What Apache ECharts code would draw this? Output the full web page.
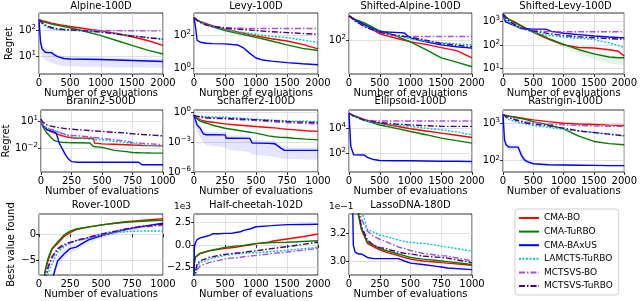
<!DOCTYPE html>
<html><head><meta charset="utf-8">
<script src="https://cdn.jsdelivr.net/npm/echarts@6/dist/echarts.min.js"></script>
<style>html,body{margin:0;padding:0;background:#fff}#c{width:640px;height:301px}</style>
</head><body><div id="c"></div><script>
const METHODS = ['CMA-BO','CMA-TuRBO','CMA-BAxUS','LAMCTS-TuRBO','MCTSVS-BO','MCTSVS-TuRBO'];
const TITLES = ['Alpine-100D','Levy-100D','Shifted-Alpine-100D','Shifted-Levy-100D','Branin2-500D','Schaffer2-100D','Ellipsoid-100D','Rastrigin-100D','Rover-100D','Half-cheetah-102D','LassoDNA-180D'];

// ---------- Alpine-100D ----------
const alpineX = [0,25,50,100,150,200,250,300,400,500,750,1000,1250,1500,1750,2000];
const alpineBO = [260,245,235,220,205,190,180,170,155,140,115,95,75,56,40,26];
const alpineTuRBO = [260,240,225,205,190,175,165,155,140,125,90,62,40,26,17,12];
const alpineBAxUS = [260,35,19,14,13.5,13.5,11,9.5,8,7.7,7.5,7.3,7,6.7,6.4,6.1];
const alpineLAMCTS = [260,220,190,150,125,115,108,104,100,98,95,88,75,62,52,45];
const alpineMCTSBO = [260,220,190,160,140,125,118,112,106,103,100,98,97,96,95,95];
const alpineMCTSTuRBO = [260,220,195,160,140,128,120,115,108,104,95,85,72,60,52,45];
const alpineBandLo = [260,20,10,7,6,5.5,5,4.5,4,4,3.8,3.8,3.6,3.6,3.5,3.5];
const alpineBandHi = [260,50,28,20,18,17,14,12,10,9.5,9,8.8,8.5,8.2,8,7.8];

// ---------- Levy-100D ----------
const levyX = [0,25,50,100,200,300,500,700,800,900,1000,1100,1250,1500,1750,2000];
const levyBO = [1200,1000,850,700,500,380,230,160,135,110,92,78,62,45,28,15];
const levyTuRBO = [1200,1000,850,650,450,330,190,130,110,90,75,62,45,26,16,12];
const levyBAxUS = [1200,300,50,38,33,31,30,26,17,8,4.2,3.2,2.7,2.2,1.9,1.65];
const levyLAMCTS = [1200,1000,850,650,450,350,230,170,150,130,115,100,88,72,52,37];
const levyMCTSBO = [1200,1000,800,600,420,340,290,270,265,262,260,260,260,260,260,260];
const levyMCTSTuRBO = [1200,1000,800,600,420,340,270,235,220,210,195,180,165,145,128,115];

// ---------- Shifted-Alpine-100D ----------
const salpX = [0,100,250,500,750,900,1000,1250,1500,1750,2000];
const salpBO = [345,280,222,138,112,100,92,81,69,59,41];
const salpTuRBO = [345,290,242,162,127,105,92,62,41,33,26];
const salpBAxUS = [345,280,222,154,149,145,112,92,79,72,67];
const salpLAMCTS = [345,260,206,149,127,115,108,95,88,83,79];
const salpMCTSBO = [345,270,200,149,127,122,121,121,121,121,121];
const salpMCTSTuRBO = [345,270,200,149,130,122,117,100,85,78,72];

// ---------- Shifted-Levy-100D ----------
const slevyX = [0,25,50,100,200,300,500,700,750,800,1000,1250,1500,1750,1900,2000];
const slevyBO = [2000,1700,1500,1200,900,650,340,200,175,155,100,78,74,63,54,34];
const slevyTuRBO = [2000,1700,1500,1200,850,620,360,220,185,165,106,63,42,31,29,29];
const slevyBAxUS = [2000,1170,910,810,630,490,460,460,420,370,310,270,236,215,205,200];
const slevyLAMCTS = [2000,1400,1100,900,650,500,340,270,255,245,215,190,170,120,95,78];
const slevyMCTSBO = [2000,1600,1300,1000,700,520,400,370,365,360,360,360,360,360,360,360];
const slevyMCTSTuRBO = [2000,1600,1300,1000,700,520,380,320,300,290,250,220,200,185,178,175];
const slevyBandLo = [2000,1700,1500,1200,850,600,320,190,160,140,80,45,25,17,15,14];
const slevyBandHi = [2000,1700,1500,1200,850,640,380,240,200,180,115,70,48,36,33,32];

// ---------- Branin2-500D ----------
const braninX = [0,10,25,50,75,100,125,150,175,200,225,250,300,400,430,440,500,600,700,750,800,830,840,900,1000];
const braninBO = [12,5,2.5,1.2,0.8,0.57,0.42,0.32,0.25,0.2,0.17,0.15,0.13,0.13,0.13,0.036,0.03,0.027,0.024,0.022,0.021,0.02,0.02,0.019,0.018];
const braninTuRBO = [12,4,1.5,0.5,0.2,0.087,0.06,0.05,0.045,0.043,0.042,0.04,0.04,0.038,0.015,0.014,0.012,0.0055,0.004,0.0032,0.003,0.0029,0.0028,0.0028,0.0027];
const braninBAxUS = [12,5,2.5,1.2,0.9,0.75,0.5,0.036,0.008,0.0018,0.0006,0.0003,0.00025,0.00025,0.00025,0.00025,0.00025,0.00025,0.00025,0.00025,0.00025,0.00013,0.00013,0.00013,0.00013];
const braninLAMCTS = [12,6,3,1.8,1.4,1.1,0.8,0.6,0.45,0.32,0.25,0.2,0.15,0.1,0.095,0.09,0.087,0.06,0.04,0.032,0.027,0.024,0.023,0.019,0.015];
const braninMCTSBO = [12,6,3,1.8,1.4,1.1,0.8,0.6,0.45,0.35,0.3,0.28,0.25,0.18,0.16,0.15,0.13,0.09,0.06,0.043,0.038,0.034,0.033,0.03,0.024];
const braninMCTSTuRBO = [20,10,6,4,3.2,2.7,2.3,2,1.8,1.6,1.5,1.4,1.2,0.95,0.88,0.85,0.75,0.6,0.5,0.41,0.37,0.34,0.33,0.3,0.24];

// ---------- Schaffer2-100D ----------
const schafX = [0,10,25,50,75,100,150,250,260,300,450,470,500,600,650,700,730,750,800,900,1000];
const schafBO = [0.5,0.35,0.25,0.18,0.14,0.12,0.1,0.068,0.067,0.06,0.042,0.04,0.037,0.03,0.027,0.023,0.021,0.02,0.018,0.014,0.012];
const schafTuRBO = [0.5,0.3,0.2,0.13,0.1,0.08,0.05,0.025,0.024,0.02,0.01,0.009,0.008,0.0043,0.0035,0.003,0.0029,0.0029,0.0025,0.002,0.0017];
const schafBAxUS = [0.5,0.2,0.054,0.025,0.0068,0.0055,0.0055,0.0054,0.0025,0.0025,0.0024,0.0008,0.0008,0.00075,0.0007,0.00025,0.00015,0.00015,0.00015,0.00015,0.00015];
const schafLAMCTS = [0.5,0.45,0.42,0.4,0.38,0.36,0.34,0.32,0.32,0.3,0.22,0.21,0.2,0.17,0.16,0.15,0.145,0.14,0.13,0.125,0.12];
const schafMCTSBO = [0.5,0.42,0.38,0.34,0.3,0.28,0.25,0.22,0.22,0.2,0.16,0.155,0.15,0.12,0.11,0.1,0.095,0.09,0.085,0.075,0.068];
const schafMCTSTuRBO = [0.5,0.42,0.38,0.34,0.3,0.28,0.26,0.25,0.25,0.23,0.19,0.185,0.18,0.15,0.14,0.13,0.125,0.12,0.11,0.1,0.09];
const schafBandLo = [0.5,0.05,0.01,0.003,0.001,0.0005,0.0004,0.0003,0.0002,0.00015,0.0001,0.00006,0.00005,0.00004,0.00003,0.000025,0.00002,0.00002,0.00002,0.000018,0.000017];
const schafBandHi = [0.5,0.3,0.1,0.05,0.015,0.012,0.011,0.011,0.005,0.005,0.0048,0.0016,0.0016,0.0015,0.0014,0.0005,0.0003,0.0003,0.0003,0.0003,0.0003];

// ---------- Ellipsoid-100D ----------
const ellX = [0,25,30,50,75,100,250,300,400,500,750,1000,1250,1500,1750,2000];
const ellBO = [160000,140000,135000,120000,105000,95000,50000,42000,32000,25000,15000,9000,6000,4000,2700,1800];
const ellTuRBO = [160000,140000,135000,120000,105000,90000,45000,37000,26000,18000,10000,5400,3000,1600,1000,630];
const ellBAxUS = [160000,800,340,250,74,74,70,45,30,25,24,24,23,22,22,21];
const ellLAMCTS = [160000,130000,125000,110000,90000,80000,40000,35000,28000,25000,18000,14000,10000,7400,5000,2900];
const ellMCTSBO = [160000,140000,130000,110000,90000,80000,46000,43000,40000,38000,38000,38000,38000,38000,38000,38000];
const ellMCTSTuRBO = [160000,140000,130000,110000,90000,80000,45000,40000,33000,28000,22000,18000,16000,14000,14000,14000];

// ---------- Rastrigin-100D ----------
const rastX = [0,25,50,100,250,300,350,400,500,750,1000,1250,1500,1750,2000];
const rastBO = [1700,1650,1600,1550,1420,1380,1340,1300,1230,1100,1000,950,920,890,870];
const rastTuRBO = [1700,1650,1600,1550,1380,1330,1280,1230,1100,900,707,450,326,285,266];
const rastBAxUS = [1700,360,266,230,230,144,107,95,83,78,77,76,75,74,74];
const rastLAMCTS = [1700,1500,1400,1250,1040,1000,970,940,870,770,690,620,565,510,460];
const rastMCTSBO = [1700,1600,1500,1400,1200,1150,1100,1070,1050,950,900,870,850,830,815];
const rastMCTSTuRBO = [1700,1600,1500,1400,1150,1100,1050,1000,950,850,740,620,565,510,460];
const rastBandLo = [1700,280,210,190,190,110,90,82,78,74,73,72,71,70,70];
const rastBandHi = [1700,450,320,270,270,190,130,105,88,82,81,80,79,78,78];

// ---------- Rover-100D ----------
const roverX = [0,25,40,50,60,75,100,110,150,200,250,300,350,400,500,600,700,800,900,1000];
const roverBO = [-20,-12,-8.5,-7.2,-6.2,-5,-3.2,-2.8,-1.8,-0.5,0.3,0.9,1.15,1.35,1.75,2.1,2.4,2.6,2.8,3.0];
const roverTuRBO = [-20,-12,-8.5,-7,-6,-4.5,-3,-2.6,-1.5,-0.2,0.6,1.0,1.2,1.4,1.8,2.05,2.3,2.45,2.6,2.7];
const roverBAxUS = [-20,-18,-16,-15,-14,-12,-10,-8.5,-5.2,-3.9,-2.8,-2.5,-1.8,-1.1,-0.3,0.3,0.9,1.35,1.75,2.1];
const roverLAMCTS = [-20,-15,-12,-10.5,-9,-7.5,-6,-5.5,-3.5,-2.5,-1.8,-1.3,-1.0,-0.8,-0.2,0.2,0.5,0.6,0.6,0.6];
const roverMCTSBO = [-20,-14,-11,-9,-8,-6.5,-5,-4.5,-3,-2.2,-1.7,-1.3,-1.0,-0.7,-0.1,0.4,0.9,1.3,1.5,1.7];
const roverMCTSTuRBO = [-20,-14,-11,-9,-7.8,-6.2,-4.6,-4.2,-2.8,-2.0,-1.6,-1.2,-0.9,-0.6,0,0.5,1.0,1.4,1.65,1.9];
const roverBandLo = [-20,-19,-17,-16,-15,-13,-11,-9.5,-6.2,-4.8,-3.6,-3.2,-2.5,-1.8,-0.9,-0.2,0.4,0.9,1.4,1.8];
const roverBandHi = [-20,-17,-15,-14,-13,-11,-9,-7.5,-4.2,-3.0,-2.0,-1.8,-1.1,-0.5,0.3,0.8,1.3,1.7,2.0,2.3];

// ---------- Half-cheetah-102D ----------
const hcX = [0,5,25,50,100,200,250,300,400,500,600,700,750,800,900,1000,1200,1250,1500,1750,2000];
const hcBO = [-4000,-2000,-1350,-1150,-960,-750,-650,-600,-480,-380,-300,-220,-150,-100,0,150,300,400,650,900,1200];
const hcTuRBO = [-4000,-2000,-1300,-1100,-900,-700,-620,-550,-420,-270,-180,-100,-80,-50,50,150,250,270,300,380,460];
const hcBAxUS = [-3500,-300,270,580,770,960,1050,1230,1230,1270,1270,1400,1450,1600,1750,2000,2100,2120,2230,2250,2270];
const hcLAMCTS = [-4000,-3500,-2900,-2300,-1920,-1700,-1540,-1450,-1300,-1150,-1050,-980,-950,-900,-870,-850,-750,-720,-580,-420,-270];
const hcMCTSBO = [-4000,-3800,-3270,-2700,-2300,-2050,-1920,-1850,-1700,-1540,-1450,-1400,-1350,-1300,-1220,-1150,-1000,-950,-770,-580,-380];
const hcMCTSTuRBO = [-4000,-3500,-2900,-2100,-1730,-1500,-1350,-1300,-1150,-1040,-950,-880,-850,-800,-720,-650,-450,-400,-190,50,300];

// ---------- LassoDNA-180D ----------
const lassoX = [0,25,30,35,50,75,100,150,200,250,300,400,450,500,600,700,750,800,1000];
const lassoBO = [0.36,0.36,0.36,0.36,0.345,0.335,0.323,0.313,0.3105,0.3085,0.3068,0.3043,0.303,0.3018,0.3005,0.2998,0.2993,0.299,0.2975];
const lassoTuRBO = [0.36,0.36,0.36,0.36,0.345,0.334,0.324,0.314,0.3118,0.3093,0.308,0.3055,0.3043,0.303,0.3018,0.301,0.3005,0.3,0.298];
const lassoBAxUS = [0.36,0.35,0.34,0.3118,0.3068,0.3055,0.3055,0.303,0.3022,0.3022,0.3022,0.3022,0.3005,0.299,0.298,0.2968,0.2962,0.2955,0.2943];
const lassoLAMCTS = [0.36,0.36,0.36,0.36,0.355,0.345,0.337,0.323,0.321,0.319,0.318,0.3155,0.3145,0.3138,0.313,0.312,0.311,0.3105,0.3075];
const lassoMCTSBO = [0.36,0.36,0.36,0.36,0.35,0.34,0.3305,0.3218,0.318,0.316,0.3143,0.3105,0.3093,0.308,0.306,0.3048,0.3043,0.304,0.3005];
const lassoMCTSTuRBO = [0.36,0.36,0.36,0.36,0.348,0.337,0.3255,0.3155,0.3118,0.31,0.3093,0.3068,0.306,0.3055,0.304,0.3033,0.303,0.3025,0.2993];

// tick values
const X2000_TICKS = [0,500,1000,1500,2000];
const X1000_TICKS = [0,250,500,750,1000];

// ---------- styles / layout ----------
const FONT = 'DejaVu Sans';
const FS = 10;
const COLORS = ['#ff0000','#008000','#0000ff','#00c8c8','#a64fdc','#4b0082'];
const DASH = ['solid','solid','solid',[2,1.5],[6,2,1.5,2],[6,2,1.5,2]];
const COLS = [[39,124],[194,124],[349,123],[503,125]];
const ROWS = [[13,61],[110,62],[214,61]];

const panels = [
 {r:0,c:0, x:alpineX, ys:[alpineBO,alpineTuRBO,alpineBAxUS,alpineLAMCTS,alpineMCTSBO,alpineMCTSTuRBO], log:true, min:2, max:470, yTicks:[10,100], xMax:2000, band:[alpineBandLo,alpineBandHi,'rgba(0,0,255,0.10)'], yName:'Regret'},
 {r:0,c:1, x:levyX, ys:[levyBO,levyTuRBO,levyBAxUS,levyLAMCTS,levyMCTSBO,levyMCTSTuRBO], log:true, min:0.45, max:2240, yTicks:[1,100], xMax:2000},
 {r:0,c:2, x:salpX, ys:[salpBO,salpTuRBO,salpBAxUS,salpLAMCTS,salpMCTSBO,salpMCTSTuRBO], log:true, min:18, max:400, yTicks:[100], xMax:2000},
 {r:0,c:3, x:slevyX, ys:[slevyBO,slevyTuRBO,slevyBAxUS,slevyLAMCTS,slevyMCTSBO,slevyMCTSTuRBO], log:true, min:6, max:2200, yTicks:[10,100,1000], xMax:2000, band:[slevyBandLo,slevyBandHi,'rgba(0,128,0,0.10)']},
 {r:1,c:0, x:braninX, ys:[braninBO,braninTuRBO,braninBAxUS,braninLAMCTS,braninMCTSBO,braninMCTSTuRBO], log:true, min:2e-5, max:200, yTicks:[0.01,10], xMax:1000, yName:'Regret'},
 {r:1,c:1, x:schafX, ys:[schafBO,schafTuRBO,schafBAxUS,schafLAMCTS,schafMCTSBO,schafMCTSTuRBO], log:true, min:1e-6, max:1.7, yTicks:[1e-6,1e-3,1], xMax:1000, band:[schafBandLo,schafBandHi,'rgba(0,0,255,0.10)']},
 {r:1,c:2, x:ellX, ys:[ellBO,ellTuRBO,ellBAxUS,ellLAMCTS,ellMCTSBO,ellMCTSTuRBO], log:true, min:3, max:290000, yTicks:[100,10000], xMax:2000},
 {r:1,c:3, x:rastX, ys:[rastBO,rastTuRBO,rastBAxUS,rastLAMCTS,rastMCTSBO,rastMCTSTuRBO], log:true, min:50, max:2250, yTicks:[100,1000], xMax:2000, band:[rastBandLo,rastBandHi,'rgba(0,0,255,0.10)']},
 {r:2,c:0, x:roverX, ys:[roverBO,roverTuRBO,roverBAxUS,roverLAMCTS,roverMCTSBO,roverMCTSTuRBO], log:false, min:-7.9, max:3.9, yTicks:[-5,0], xMax:1000, band:[roverBandLo,roverBandHi,'rgba(0,0,255,0.08)'], yName:'Best value found', fmt:v=>String(v).replace('-','\u2212')},
 {r:2,c:1, x:hcX, ys:[hcBO,hcTuRBO,hcBAxUS,hcLAMCTS,hcMCTSBO,hcMCTSTuRBO], log:false, min:-3300, max:3400, yTicks:[-2500,0,2500], xMax:2000, fmt:v=>(v/1000).toFixed(1).replace('-','\u2212'), offset:'1e3'},
 {r:2,c:2, x:lassoX, ys:[lassoBO,lassoTuRBO,lassoBAxUS,lassoLAMCTS,lassoMCTSBO,lassoMCTSTuRBO], log:false, min:0.2905, max:0.334, yTicks:[0.30,0.32], xMax:1000, fmt:v=>(v*10).toFixed(1), offset:'1e\u22121'}
];

function supLabel(v){
  const e = Math.round(Math.log10(v));
  return '{b|10}{s|' + String(e).replace('-','\u2212') + '}';
}

const grid=[], xAxis=[], yAxis=[], series=[], graphic=[];
panels.forEach((p,i)=>{
  const [left,width] = COLS[p.c], [top,height] = ROWS[p.r];
  grid.push({left, top, width, height, show:true, borderColor:'#000', borderWidth:0.8, backgroundColor:'transparent'});
  graphic.push({type:'text', x:left+width/2, y:top-(p.r===0?7:8.5), silent:true,
    style:{text:TITLES[i], fontSize:FS, fill:'#000', fontFamily:FONT, align:'center', verticalAlign:'middle'}});
  const xt = p.xMax===2000 ? X2000_TICKS : X1000_TICKS;
  xAxis.push({gridIndex:i, type:'value', min:0, max:p.xMax,
    axisLine:{show:false},
    axisTick:{show:true, customValues:xt, length:3, lineStyle:{color:'#000', width:0.8}},
    axisLabel:{customValues:xt, fontSize:FS, color:'#000', margin:4, fontFamily:FONT, hideOverlap:false, formatter:v=>String(v)},
    splitLine:{show:true, lineStyle:{color:'#d8d8d8', width:0.8}},
    name:'Number of evaluations', nameLocation:'middle', nameGap:(p.r===2?12:13),
    nameTextStyle:{fontSize:FS, color:'#000', fontFamily:FONT}});
  const ya = {gridIndex:i, type:p.log?'log':'value', min:p.min, max:p.max,
    axisLine:{show:false},
    axisTick:{show:true, customValues:p.yTicks, length:3, lineStyle:{color:'#000', width:0.8}},
    axisLabel:{customValues:p.yTicks, fontSize:FS, color:'#000', margin:3, fontFamily:FONT,
      formatter: p.log ? supLabel : p.fmt,
      rich:{b:{fontSize:FS, color:'#000', fontFamily:FONT}, s:{fontSize:7, color:'#000', fontFamily:FONT, verticalAlign:'top', padding:[0,0,6,0]}}},
    splitLine:{show:true, lineStyle:{color:'#d8d8d8', width:0.8}}};
  if (p.yName){
    Object.assign(ya, {name:p.yName, nameLocation:'middle', nameGap: p.log?25:23, nameRotate:90, nameTextStyle:{fontSize:FS, color:'#000', fontFamily:FONT}});
  }
  yAxis.push(ya);
  if (p.offset){
    graphic.push({type:'text', left:left-20, top:top-12, silent:true, style:{text:p.offset, fontSize:9, fill:'#000', fontFamily:FONT}});
  }
  if (p.band){
    const [lo,hi,col] = p.band;
    const xs = p.x;
    series.push({type:'custom', xAxisIndex:i, yAxisIndex:i, silent:true, z:1,
      data: xs.map((x,j)=>[x, lo[j], hi[j]]),
      encode:{x:0, y:[1,2]},
      renderItem:(params, api)=>{
        if (params.dataIndex !== 0) return null;
        const pts = [];
        for (let j=0;j<xs.length;j++) pts.push(api.coord([xs[j], hi[j]]));
        for (let j=xs.length-1;j>=0;j--) pts.push(api.coord([xs[j], lo[j]]));
        const cs = params.coordSys;
        return {type:'group', children:[{type:'polygon', shape:{points:pts}, style:{fill:col}}],
          clipPath:{type:'rect', shape:{x:cs.x, y:cs.y, width:cs.width, height:cs.height}}};
      }});
  }
  p.ys.forEach((ys,k)=>{
    series.push({name:METHODS[k], type:'line', xAxisIndex:i, yAxisIndex:i, symbol:'none', clip:true,
      data:p.x.map((x,j)=>[x,ys[j]]),
      lineStyle:{color:COLORS[k], width:1.4, type:DASH[k]}, itemStyle:{color:COLORS[k]}, z:2+k});
  });
});

const chart = echarts.init(document.getElementById('c'), null, {renderer:'canvas'});
chart.setOption({
  animation:false,
  backgroundColor:'#fff',
  textStyle:{fontFamily:FONT},
  grid, xAxis, yAxis, series, graphic,
  legend:{data:METHODS, orient:'vertical', left:515, top:209, width:104, itemWidth:20, itemHeight:10, itemGap:3.6,
    itemStyle:{opacity:0},
    textStyle:{fontSize:9, lineHeight:10, color:'#000', fontFamily:FONT},
    borderColor:'#d0d0d0', borderWidth:1, borderRadius:3, padding:[4,6,4,3], backgroundColor:'#fff'}
});
</script></body></html>
